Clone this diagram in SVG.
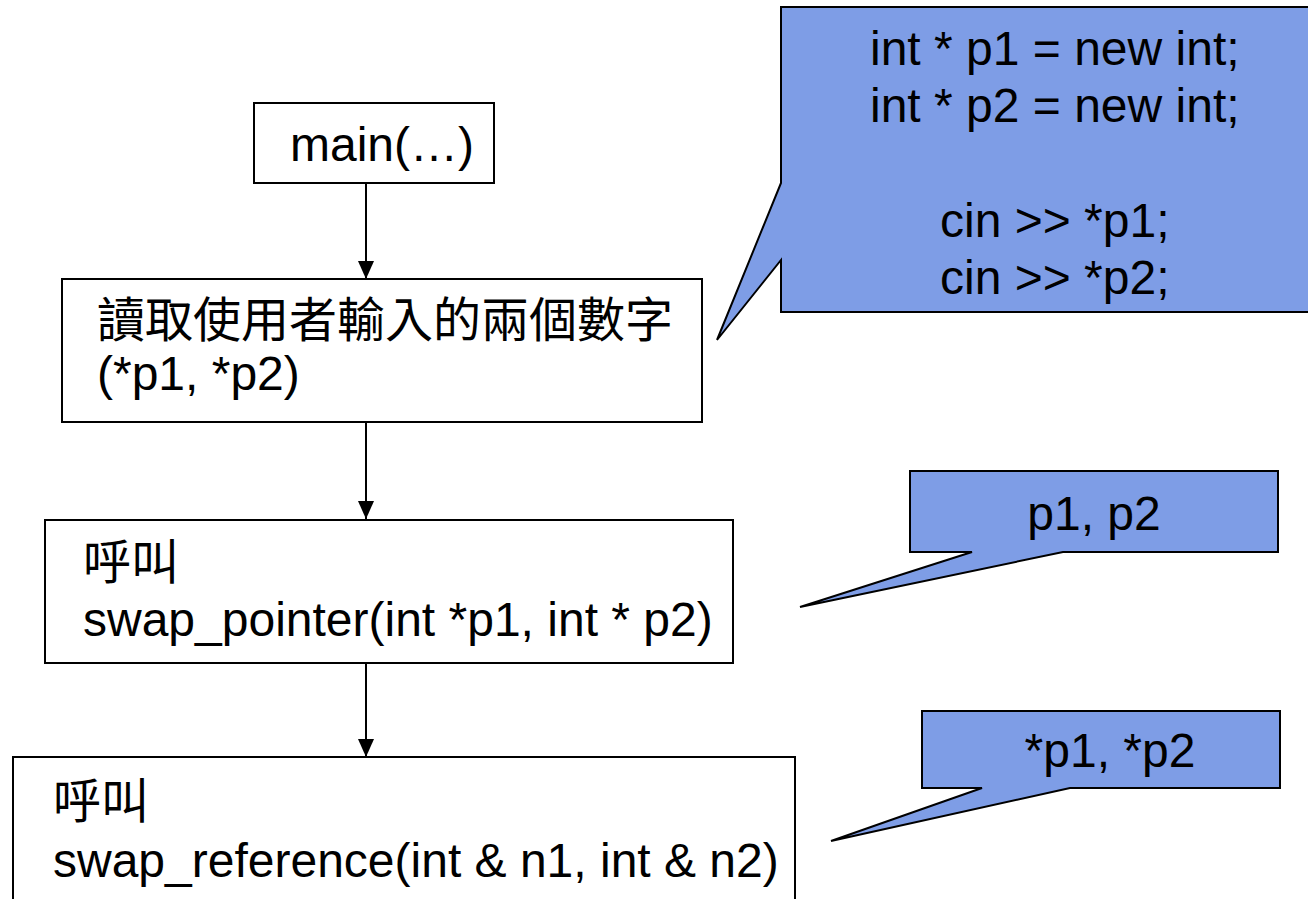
<svg xmlns="http://www.w3.org/2000/svg" width="1308" height="899" viewBox="0 0 1308 899">
<style>
  .box { fill: #ffffff; stroke: #000000; stroke-width: 2; }
  .callout { fill: #7e9de6; stroke: #000000; stroke-width: 2; stroke-linejoin: miter; }
  .t { font-family: "Liberation Sans", Arial, sans-serif; font-size: 48px; fill: #000000; }
  .cjk { font-family: "Noto Sans CJK TC", "Noto Sans CJK SC", sans-serif; font-size: 48px; fill: #000000; }
  .conn { stroke: #000000; stroke-width: 2; fill: none; }
</style>
<defs>
  <marker id="arrow" markerUnits="userSpaceOnUse" markerWidth="18" markerHeight="16" refX="18" refY="8" orient="auto" viewBox="0 0 18 16">
    <path d="M0,0 L18,8 L0,16 Z" fill="#000000"/>
  </marker>
</defs>
<rect width="1308" height="899" fill="#ffffff"/>

<g id="connectors">
  <line class="conn" x1="366" y1="183" x2="366" y2="279" marker-end="url(#arrow)"/>
  <line class="conn" x1="366" y1="422" x2="366" y2="519" marker-end="url(#arrow)"/>
  <line class="conn" x1="366" y1="663" x2="366" y2="757" marker-end="url(#arrow)"/>
</g>

<g id="node-main">
  <rect class="box" x="254" y="103" width="240" height="80"/>
  <text class="t" x="290" y="161">main(…)</text>
</g>

<g id="node-read">
  <rect class="box" x="62" y="279" width="640" height="143"/>
  <text class="cjk" x="97" y="337">讀取使用者輸入的兩個數字</text>
  <text class="t" x="97" y="390">(*p1, *p2)</text>
</g>

<g id="node-swap-pointer">
  <rect class="box" x="45" y="520" width="688" height="143"/>
  <text class="cjk" x="83" y="579">呼叫</text>
  <text class="t" x="83" y="636">swap_pointer(int *p1, int * p2)</text>
</g>

<g id="node-swap-reference">
  <rect class="box" x="13" y="757" width="782" height="200"/>
  <text class="cjk" x="53" y="818">呼叫</text>
  <text class="t" x="53" y="877">swap_reference(int &amp; n1, int &amp; n2)</text>
</g>

<g id="callout-code">
  <path class="callout" d="M781,7 L1312,7 L1312,312 L781,312 L781,260 L717,340 L781,183 Z"/>
  <text class="t" x="870" y="65">int * p1 = new int;</text>
  <text class="t" x="870" y="122">int * p2 = new int;</text>
  <text class="t" x="940" y="237">cin &gt;&gt; *p1;</text>
  <text class="t" x="940" y="294">cin &gt;&gt; *p2;</text>
</g>

<g id="callout-pointers">
  <path class="callout" d="M910,471 L1278,471 L1278,552 L1063,552 L800,607 L972,552 L910,552 Z"/>
  <text class="t" x="1094" y="530" text-anchor="middle">p1, p2</text>
</g>

<g id="callout-values">
  <path class="callout" d="M922,711 L1280,711 L1280,788 L1070,788 L831,841 L982,788 L922,788 Z"/>
  <text class="t" x="1110" y="767" text-anchor="middle">*p1, *p2</text>
</g>
</svg>
